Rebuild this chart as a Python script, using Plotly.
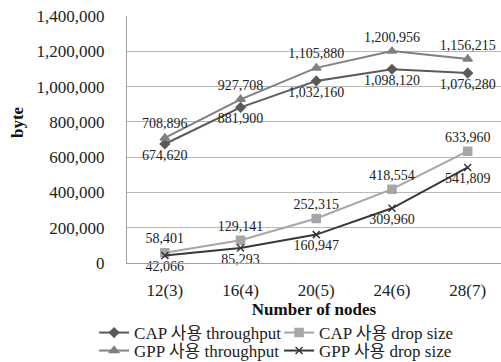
import plotly.graph_objects as go

categories = ["12(3)", "16(4)", "20(5)", "24(6)", "28(7)"]
cap_throughput = [674620, 881900, 1032160, 1098120, 1076280]
gpp_throughput = [708896, 927708, 1105880, 1200956, 1156215]
cap_drop = [58401, 129141, 252315, 418554, 633960]
gpp_drop = [42066, 85293, 160947, 309960, 541809]
y_ticks = [0, 200000, 400000, 600000, 800000, 1000000, 1200000, 1400000]

FONT = "Liberation Serif, Noto Sans CJK KR"

# name, values, colour, marker, marker size, label position, legend row
series = [
    ("CAP 사용 throughput", cap_throughput, "#5a5a5a", "diamond", 7, "bottom center", "legend"),
    ("CAP 사용 drop size", cap_drop, "#a6a6a6", "square", 8, "top center", "legend"),
    ("GPP 사용 throughput", gpp_throughput, "#808080", "triangle-up", 8, "top center", "legend2"),
    ("GPP 사용 drop size", gpp_drop, "#383838", "x-thin", 7, "bottom center", "legend2"),
]

fig = go.Figure()
for name, vals, color, sym, size, pos, leg in series:
    fig.add_trace(go.Scatter(
        x=categories, y=vals, name=name, mode="lines+markers+text",
        line=dict(color=color, width=2),
        marker=dict(symbol=sym, size=size, color=color,
                    line=dict(color=color, width=1.5)),
        text=[f"{v:,}" for v in vals], textposition=pos,
        textfont=dict(family=FONT, size=14, color="#222222"),
        cliponaxis=False, legend=leg,
    ))

def legend_row(y):
    return dict(
        orientation="h", x=-0.088, xanchor="left", y=y, yanchor="middle",
        font=dict(family=FONT, size=17, color="#222222"),
        entrywidth=140, entrywidthmode="pixels",
        itemwidth=30, tracegroupgap=0,
        bgcolor="rgba(0,0,0,0)",
    )

# plot area: x 127..501, y 16..263 px
fig.update_layout(
    width=501, height=362,
    margin=dict(l=127, r=0, t=16, b=99, autoexpand=False),
    paper_bgcolor="white", plot_bgcolor="white",
    font=dict(family=FONT, color="#222222"),
    showlegend=True,
    legend=legend_row((263 - 333) / 247),
    legend2=legend_row((263 - 351) / 247),
    xaxis=dict(
        type="category", range=[-0.5, 4.44],
        tickfont=dict(family=FONT, size=17, color="#222222"),
        showgrid=False, showline=True, linecolor="#a0a0a0", linewidth=1,
        ticks="", ticklabelstandoff=12,
        title=dict(text="<b>Number of nodes</b>",
                   font=dict(family=FONT, size=17, color="#111111"), standoff=3),
    ),
    yaxis=dict(
        range=[0, 1400000], tickvals=y_ticks,
        ticktext=[f"{v:,}" for v in y_ticks],
        tickfont=dict(family=FONT, size=17, color="#222222"),
        showgrid=True, gridcolor="#b8b8b8", gridwidth=1,
        showline=True, linecolor="#a0a0a0", linewidth=1,
        zeroline=False, ticks="", ticklabelstandoff=18,
    ),
    annotations=[dict(
        text="<b>byte</b>", textangle=-90, showarrow=False,
        xref="paper", yref="paper", x=(17 - 127) / 374, y=(263 - 122) / 247,
        xanchor="center", yanchor="middle",
        font=dict(family=FONT, size=17, color="#111111"),
    )],
)

fig.write_html("out.html")
